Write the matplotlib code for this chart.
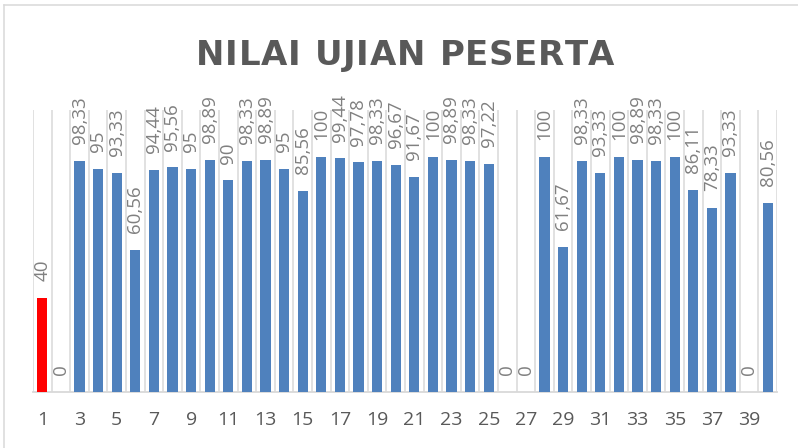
import matplotlib
matplotlib.use('Agg')
import matplotlib.pyplot as plt
from matplotlib.lines import Line2D

# data
peserta = list(range(1, 41))
nilai = [40, 0, 98.33, 95, 93.33, 60.56, 94.44, 95.56, 95, 98.89,
         90, 98.33, 98.89, 95, 85.56, 100, 99.44, 97.78, 98.33, 96.67,
         91.67, 100, 98.89, 98.33, 97.22, 0, 0, 100, 61.67, 98.33,
         93.33, 100, 98.89, 98.33, 100, 86.11, 78.33, 93.33, 0, 80.56]
tick_labels = [str(i) for i in range(1, 41, 2)]
judul = 'NILAI UJIAN PESERTA'

BLUE = '#4F81BD'
RED = '#FF0000'
GRID = '#D9D9D9'

fig = plt.figure(figsize=(7.98, 4.48), dpi=100)
ax = fig.add_axes([33 / 798, 56 / 448, 744 / 798, 282 / 448])

colors = [RED if v < 50 else BLUE for v in nilai]
ax.bar(peserta, nilai, width=0.54, color=colors, zorder=3)

for x, v in zip(peserta, nilai):
    txt = f'{v:g}'.replace('.', ',')
    ax.annotate(txt, (x, v), xytext=(0, 12), textcoords='offset points',
                rotation=90, ha='center', va='bottom', color='#808080',
                fontsize=13.5, family='Open Sans', zorder=4)

ax.set_xlim(0.5, 40.5)
ax.set_ylim(0, 120)
ax.set_yticks([])
ax.set_xticks(range(1, 41, 2))
ax.set_xticklabels(tick_labels, family='Open Sans', fontsize=14, color='#595959')
ax.set_xticks([i + 0.5 for i in range(0, 41)], minor=True)
ax.tick_params(axis='x', which='both', length=0, pad=14)
ax.grid(True, axis='x', which='minor', color=GRID, linewidth=1.1, zorder=0)

for s in ['top', 'right', 'left']:
    ax.spines[s].set_visible(False)
ax.spines['bottom'].set_color(GRID)
ax.spines['bottom'].set_linewidth(1.3)

# title with a bit of letter spacing, drawn char by char
renderer = fig.canvas.get_renderer()
tstyle = dict(fontsize=24.5, fontweight='bold', color='#595959', family='DejaVu Sans',
              va='baseline', ha='left')
spacing = 0.6  # px between letters
widths = []
for ch in judul:
    t = fig.text(0, 0, ch if ch != ' ' else 'n', **tstyle)
    w = t.get_window_extent(renderer).width
    if ch == ' ':
        w *= 0.55
    widths.append(w)
    t.remove()
total = sum(widths) + spacing * (len(judul) - 1)
xpos = 405.5 - total / 2
ybase = (448 - 65) / 448
for ch, w in zip(judul, widths):
    if ch != ' ':
        fig.text(xpos / 798, ybase, ch, **tstyle)
    xpos += w + spacing

# chart area border (only left and top visible in the crop)
bx = 4 / 798
by = (448 - 5) / 448
fig.add_artist(Line2D([bx, bx], [0, by], color=GRID, linewidth=1.1))
fig.add_artist(Line2D([bx, 1], [by, by], color=GRID, linewidth=1.1))

fig.savefig('out.png', dpi=100)
